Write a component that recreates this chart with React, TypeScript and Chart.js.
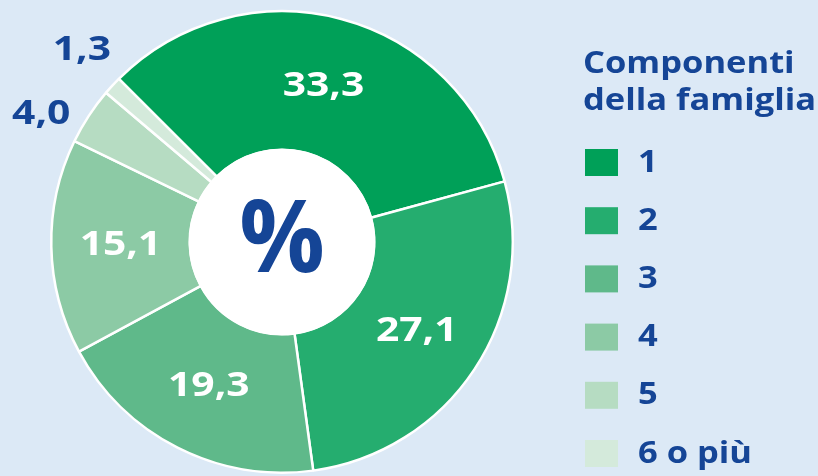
import React, { useEffect, useRef } from "react";
import { Chart, registerables } from "chart.js";

Chart.register(...registerables);

const categories = ["1", "2", "3", "4", "5", "6 o più"];
const values = [33.3, 27.1, 19.3, 15.1, 4.0, 1.3];
const valueLabels = ["33,3", "27,1", "19,3", "15,1", "4,0", "1,3"];
const sliceColors = ["#00a058", "#25ad6f", "#5fb98a", "#8ccaa5", "#b6dcc2", "#d4eadb"];
const legendTitle = ["Componenti", "della famiglia"];
const centerText = "%";
const outsideLabelNudge = [[0, 0], [0, 0], [0, 0], [0, 0], [-14, 20], [-1, -8]];

const BG = "#dce9f6";
const BLUE = "#154596";
const FONT = "'Open Sans', 'Noto Sans', sans-serif";

function stretchText(ctx: CanvasRenderingContext2D, t: string, x: number, y: number, sx: number) {
  ctx.save();
  ctx.translate(x, y);
  ctx.scale(sx, 1);
  ctx.fillText(t, 0, 0);
  ctx.restore();
}

const overlayPlugin = {
  id: "overlay",
  afterDatasetsDraw(chart: any) {
    const ctx = chart.ctx as CanvasRenderingContext2D;
    const meta = chart.getDatasetMeta(0);
    const arcs = meta.data;
    if (!arcs.length) return;
    const a0 = arcs[0];
    const cx = a0.x, cy = a0.y;
    const inner = a0.innerRadius, outer = a0.outerRadius;
    ctx.save();
    // white centre
    ctx.beginPath();
    ctx.arc(cx, cy, inner + 1, 0, Math.PI * 2);
    ctx.fillStyle = "#ffffff";
    ctx.fill();
    ctx.fillStyle = BLUE;
    ctx.font = `bold 100px ${FONT}`;
    ctx.textAlign = "center";
    ctx.textBaseline = "middle";
    stretchText(ctx, centerText, cx, cy + 2, 0.95);

    // value labels
    const total = values.reduce((s, v) => s + v, 0);
    arcs.forEach((arc: any, i: number) => {
      const mid = (arc.startAngle + arc.endAngle) / 2;
      const share = values[i] / total;
      let x: number, y: number;
      if (share > 0.08) {
        const r = (inner + outer) / 2;
        x = cx + Math.cos(mid) * r;
        y = cy + Math.sin(mid) * r;
        ctx.fillStyle = "#ffffff";
      } else {
        const r = outer + 40;
        x = cx + Math.cos(mid) * r + outsideLabelNudge[i][0];
        y = cy + Math.sin(mid) * r + outsideLabelNudge[i][1];
        ctx.fillStyle = BLUE;
      }
      ctx.font = `bold 34px ${FONT}`;
      ctx.textAlign = "center";
      ctx.textBaseline = "middle";
      stretchText(ctx, valueLabels[i], x, y, 1.2);
    });

    // legend
    const lx = 583;
    ctx.fillStyle = BLUE;
    ctx.textAlign = "left";
    ctx.textBaseline = "alphabetic";
    ctx.font = `bold 30px ${FONT}`;
    legendTitle.forEach((t, i) => stretchText(ctx, t, lx, 73 + i * 37, 1.15));
    const labels = chart.data.labels as string[];
    const colors = chart.data.datasets[0].backgroundColor as string[];
    labels.forEach((lab, i) => {
      const ry = 162 + i * 58.2;
      ctx.fillStyle = colors[i];
      ctx.fillRect(585, ry - 13, 33, 27);
      ctx.fillStyle = BLUE;
      ctx.font = `bold 30px ${FONT}`;
      ctx.textBaseline = "middle";
      stretchText(ctx, lab, 638, ry + 1, 1.15);
    });
    ctx.restore();
  },
};

export default function App() {
  const ref = useRef<HTMLCanvasElement | null>(null);
  useEffect(() => {
    if (!ref.current) return;
    const chart = new Chart(ref.current, {
      type: "doughnut",
      data: {
        labels: categories,
        datasets: [
          {
            data: values,
            backgroundColor: sliceColors,
            borderColor: "#ffffff",
            borderWidth: 2.5,
          },
        ],
      },
      options: {
        responsive: false,
        animation: false,
        rotation: -45,
        cutout: "40%",
        layout: { padding: { left: 50, top: 10, right: 304, bottom: 2 } },
        plugins: {
          legend: { display: false },
          tooltip: { enabled: false },
        },
      },
      plugins: [overlayPlugin],
    });
    return () => chart.destroy();
  }, []);
  return (
    <div style={{ position: "fixed", left: 0, top: 0, width: 818, height: 476, background: BG }}>
      <canvas ref={ref} width={818} height={476} style={{ display: "block" }} />
    </div>
  );
}
